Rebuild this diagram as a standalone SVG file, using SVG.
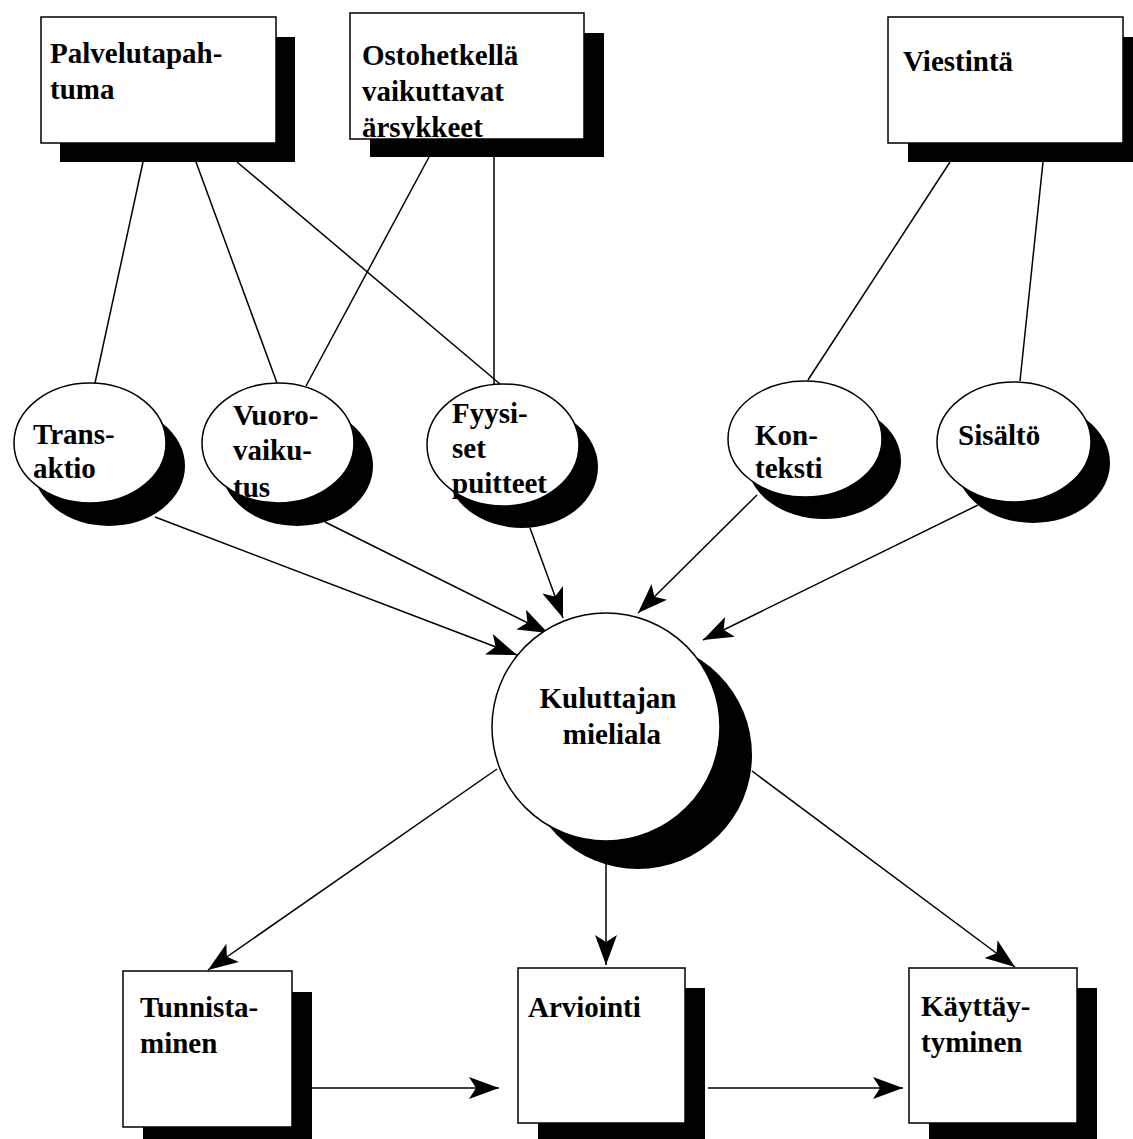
<svg xmlns="http://www.w3.org/2000/svg" width="1133" height="1139" viewBox="0 0 1133 1139">
  <defs>
    <style>
      .shadow { fill: #000; }
      .box { fill: #fff; stroke: #000; stroke-width: 1.5; }
      .line { fill: none; stroke: #000; stroke-width: 1.5; }
      .arrow { fill: none; stroke: #000; stroke-width: 1.5; marker-end: url(#head); }
      .lbl { font-family: "Liberation Serif", "Times New Roman", serif; font-weight: bold; font-size: 29px; fill: #000; }
      .mid { text-anchor: middle; }
    </style>
    <marker id="head" markerUnits="userSpaceOnUse" viewBox="0 0 30 24" refX="30" refY="12" markerWidth="30" markerHeight="24" orient="auto">
      <path d="M0,1 L30,12 L0,23 L7,12 Z" fill="#000"/>
    </marker>
    <clipPath id="clip-osto">
      <rect x="350" y="0" width="240" height="140"/>
    </clipPath>
  </defs>

  <rect width="1133" height="1139" fill="#fff"/>

  <!-- connectors -->
  <g id="connectors">
    <line class="line" x1="143" y1="162" x2="95" y2="383"/>
    <line class="line" x1="196" y1="162" x2="277" y2="383"/>
    <line class="line" x1="237" y1="162" x2="500" y2="384"/>
    <line class="line" x1="429" y1="157" x2="306" y2="386"/>
    <line class="line" x1="494" y1="157" x2="494" y2="385"/>
    <line class="line" x1="950" y1="162" x2="808" y2="380"/>
    <line class="line" x1="1043" y1="162" x2="1020" y2="381"/>

    <line class="arrow" x1="155" y1="517" x2="517" y2="655"/>
    <line class="arrow" x1="325" y1="522" x2="548" y2="633"/>
    <line class="arrow" x1="530" y1="528" x2="563" y2="618"/>
    <line class="arrow" x1="757" y1="495" x2="638" y2="613"/>
    <line class="arrow" x1="978" y1="505" x2="703" y2="640"/>

    <line class="arrow" x1="497" y1="769" x2="208" y2="970"/>
    <line class="arrow" x1="606" y1="850" x2="606" y2="965"/>
    <line class="arrow" x1="752" y1="771" x2="1015" y2="967"/>

    <line class="arrow" x1="312" y1="1088" x2="499" y2="1088"/>
    <line class="arrow" x1="708" y1="1088" x2="903" y2="1088"/>
  </g>

  <!-- source boxes -->
  <g id="palvelutapahtuma">
    <rect class="shadow" x="60" y="37" width="235" height="125"/>
    <rect class="box" x="41" y="17" width="235" height="126"/>
    <text class="lbl" x="50" y="63">Palvelutapah-</text>
    <text class="lbl" x="50" y="99">tuma</text>
  </g>

  <g id="ostohetkella">
    <rect class="shadow" x="370" y="33" width="234" height="124"/>
    <rect class="box" x="350" y="13" width="234" height="126"/>
    <g clip-path="url(#clip-osto)">
      <text class="lbl" x="362" y="65">Ostohetkellä</text>
      <text class="lbl" x="362" y="101">vaikuttavat</text>
      <text class="lbl" x="362" y="137">ärsykkeet</text>
    </g>
  </g>

  <g id="viestinta">
    <rect class="shadow" x="908" y="37" width="235" height="125"/>
    <rect class="box" x="888" y="17" width="235" height="126"/>
    <text class="lbl" x="903" y="71">Viestintä</text>
  </g>

  <!-- factor ellipses -->
  <g id="transaktio">
    <ellipse class="shadow" cx="109" cy="466" rx="76" ry="60"/>
    <ellipse class="box" cx="90" cy="443" rx="76" ry="60"/>
    <text class="lbl" x="33" y="444">Trans-</text>
    <text class="lbl" x="33" y="478">aktio</text>
  </g>

  <g id="vuorovaikutus">
    <ellipse class="shadow" cx="297" cy="466" rx="76" ry="60"/>
    <ellipse class="box" cx="278" cy="443" rx="76" ry="60"/>
    <text class="lbl" x="233" y="425">Vuoro-</text>
    <text class="lbl" x="233" y="460">vaiku-</text>
    <text class="lbl" x="233" y="497">tus</text>
  </g>

  <g id="fyysiset">
    <ellipse class="shadow" cx="522" cy="467" rx="76" ry="61"/>
    <ellipse class="box" cx="503" cy="445" rx="76" ry="61"/>
    <text class="lbl" x="452" y="423">Fyysi-</text>
    <text class="lbl" x="452" y="458">set</text>
    <text class="lbl" x="452" y="493">puitteet</text>
  </g>

  <g id="konteksti">
    <ellipse class="shadow" cx="824" cy="461" rx="77" ry="58"/>
    <ellipse class="box" cx="805" cy="439" rx="77" ry="58"/>
    <text class="lbl" x="755" y="445">Kon-</text>
    <text class="lbl" x="755" y="478">teksti</text>
  </g>

  <g id="sisalto">
    <ellipse class="shadow" cx="1033" cy="463" rx="77" ry="60"/>
    <ellipse class="box" cx="1014" cy="442" rx="77" ry="60"/>
    <text class="lbl" x="958" y="445">Sisältö</text>
  </g>

  <!-- central node -->
  <g id="kuluttajan-mieliala">
    <circle class="shadow" cx="638" cy="755" r="114"/>
    <circle class="box" cx="606" cy="727" r="114"/>
    <text class="lbl mid" x="608" y="708">Kuluttajan</text>
    <text class="lbl mid" x="612" y="744">mieliala</text>
  </g>

  <!-- outcome boxes -->
  <g id="tunnistaminen">
    <rect class="shadow" x="143" y="992" width="169" height="160"/>
    <rect class="box" x="123" y="971" width="169" height="156"/>
    <text class="lbl" x="140" y="1017">Tunnista-</text>
    <text class="lbl" x="140" y="1053">minen</text>
  </g>

  <g id="arviointi">
    <rect class="shadow" x="538" y="988" width="167" height="160"/>
    <rect class="box" x="518" y="968" width="167" height="155"/>
    <text class="lbl" x="528" y="1017">Arviointi</text>
  </g>

  <g id="kayttaytyminen">
    <rect class="shadow" x="929" y="988" width="168" height="160"/>
    <rect class="box" x="909" y="968" width="168" height="155"/>
    <text class="lbl" x="921" y="1016">Käyttäy-</text>
    <text class="lbl" x="921" y="1052">tyminen</text>
  </g>
</svg>
